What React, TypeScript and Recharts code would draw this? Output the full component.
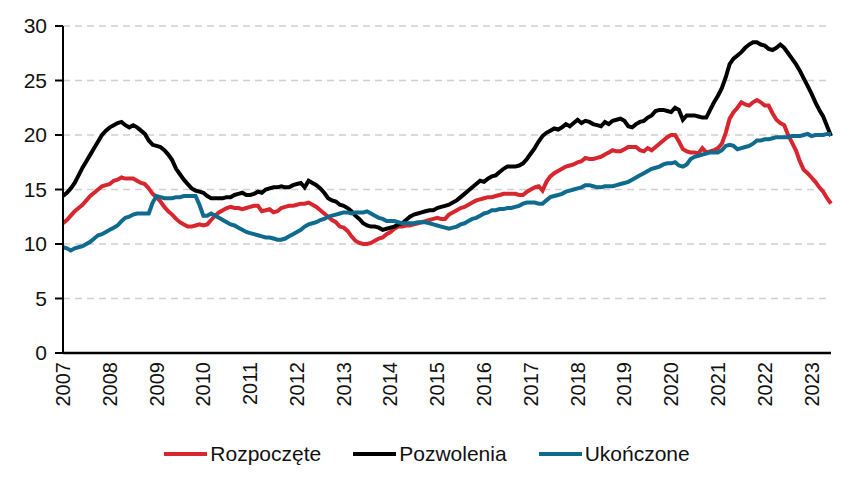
import { LineChart, Line, XAxis, YAxis, CartesianGrid } from "recharts";

// monthly, Jan 2007 – Jun 2023
const rozpoczete = [
  11.9, 12.2, 12.6, 13.0, 13.3, 13.6, 14.0, 14.4, 14.7, 15.0, 15.3, 15.4,
  15.5, 15.8, 15.9, 16.1, 16.0, 16.0, 16.0, 15.8, 15.6, 15.5, 15.1, 14.6,
  14.3, 13.9, 13.4, 13.0, 12.7, 12.3, 12.0, 11.8, 11.6, 11.6, 11.7, 11.8,
  11.7, 11.8, 12.2, 12.6, 12.9, 13.1, 13.3, 13.4, 13.3, 13.3, 13.2, 13.3,
  13.4, 13.5, 13.5, 13.0, 13.1, 13.2, 12.9, 13.0, 13.3, 13.4, 13.5, 13.5,
  13.6, 13.7, 13.7, 13.8, 13.6, 13.4, 13.1, 12.8, 12.5, 12.2, 12.0, 11.6,
  11.5, 11.2, 10.7, 10.3, 10.1, 10.0, 10.0, 10.1, 10.3, 10.5, 10.6, 10.9,
  11.1, 11.4, 11.6, 11.6, 11.7, 11.7, 11.8, 11.9, 12.0, 12.1, 12.2, 12.3,
  12.4, 12.3, 12.3, 12.7, 12.9, 13.1, 13.3, 13.4, 13.6, 13.8, 14.0, 14.1,
  14.2, 14.3, 14.3, 14.4, 14.5, 14.6, 14.6, 14.6, 14.6, 14.5, 14.5, 14.8,
  15.0, 15.2, 15.3, 14.9, 15.7, 16.2, 16.5, 16.7, 16.9, 17.1, 17.2, 17.3,
  17.5, 17.6, 17.9, 17.8, 17.8, 17.9, 18.0, 18.2, 18.4, 18.6, 18.5, 18.5,
  18.7, 18.9, 18.9, 18.9, 18.6, 18.5, 18.8, 18.6, 18.9, 19.2, 19.5, 19.8,
  20.0, 20.0, 19.4, 18.7, 18.5, 18.4, 18.4, 18.3, 18.8, 18.4, 18.5, 18.6,
  18.8, 19.2, 20.2, 21.5, 22.1, 22.5, 23.0, 22.8, 22.7, 23.0, 23.2, 23.0,
  22.7, 22.7, 22.0, 21.4, 21.1, 20.9, 20.0, 19.3, 18.6, 17.6, 16.8, 16.5,
  16.1, 15.7, 15.2, 14.8, 14.2, 13.7,
];

const pozwolenia = [
  14.4, 14.7, 15.1, 15.6, 16.3, 17.0, 17.6, 18.2, 18.8, 19.4, 20.0, 20.4,
  20.7, 20.9, 21.1, 21.2, 20.9, 20.7, 20.9, 20.7, 20.4, 20.1, 19.5, 19.1,
  19.0, 18.9, 18.6, 18.2, 17.7, 16.9, 16.4, 15.9, 15.5, 15.1, 14.9, 14.8,
  14.7, 14.4, 14.2, 14.2, 14.2, 14.2, 14.3, 14.3, 14.5, 14.6, 14.7, 14.5,
  14.5, 14.6, 14.8, 14.7, 15.0, 15.1, 15.2, 15.2, 15.3, 15.2, 15.2, 15.4,
  15.5, 15.6, 15.2, 15.8, 15.6, 15.4, 15.1, 14.7, 14.2, 14.0, 13.9, 13.6,
  13.5, 13.3, 13.0, 12.6, 12.3, 11.9, 11.7, 11.6, 11.6, 11.5, 11.3, 11.4,
  11.5, 11.6, 11.8, 11.9, 12.2, 12.5, 12.7, 12.8, 12.9, 13.0, 13.1, 13.1,
  13.3, 13.4, 13.5, 13.6, 13.8, 14.0, 14.3, 14.6, 14.9, 15.2, 15.5, 15.8,
  15.7, 16.0, 16.2, 16.3, 16.6, 16.9, 17.1, 17.1, 17.1, 17.2, 17.4, 17.8,
  18.3, 18.8, 19.4, 19.9, 20.2, 20.4, 20.6, 20.5, 20.7, 21.0, 20.8, 21.1,
  21.4, 21.1, 21.3, 21.2, 21.0, 20.9, 20.8, 21.2, 21.0, 21.3, 21.4, 21.5,
  21.3, 20.8, 20.7, 21.0, 21.2, 21.3, 21.6, 21.8, 22.2, 22.3, 22.3, 22.2,
  22.1, 22.5, 22.3, 21.4, 21.8, 21.8, 21.8, 21.7, 21.6, 21.6, 22.3, 23.0,
  23.6, 24.3, 25.3, 26.5, 27.0, 27.3, 27.6, 28.0, 28.3, 28.5, 28.5, 28.3,
  28.2, 27.9, 27.8, 28.0, 28.3, 28.0, 27.5, 27.0, 26.5, 25.9, 25.2, 24.5,
  23.8, 23.0, 22.3, 21.7, 20.8, 19.9,
];

const ukonczone = [
  9.7, 9.6, 9.4, 9.6, 9.7, 9.8, 10.0, 10.2, 10.5, 10.8, 10.9, 11.1,
  11.3, 11.5, 11.7, 12.1, 12.4, 12.5, 12.7, 12.8, 12.8, 12.8, 12.8, 13.8,
  14.4, 14.3, 14.2, 14.2, 14.2, 14.3, 14.3, 14.4, 14.4, 14.4, 14.4, 13.6,
  12.6, 12.6, 12.8, 12.6, 12.4, 12.2, 12.0, 11.8, 11.7, 11.5, 11.3, 11.1,
  11.0, 10.9, 10.8, 10.7, 10.6, 10.6, 10.5, 10.4, 10.4, 10.5, 10.7, 10.9,
  11.1, 11.3, 11.6, 11.8, 11.9, 12.0, 12.2, 12.3, 12.5, 12.6, 12.7, 12.8,
  12.9, 12.9, 12.8, 12.9, 12.9, 12.9, 13.0, 12.8, 12.6, 12.4, 12.3, 12.1,
  12.1, 12.1, 12.0, 11.9, 11.9, 11.9, 11.9, 12.0, 12.0, 12.0, 11.9, 11.8,
  11.7, 11.6, 11.5, 11.4, 11.5, 11.6, 11.8, 11.9, 12.1, 12.3, 12.4, 12.6,
  12.8, 12.9, 13.1, 13.1, 13.2, 13.2, 13.3, 13.3, 13.4, 13.5, 13.7, 13.8,
  13.8, 13.8, 13.7, 13.7, 14.0, 14.3, 14.4, 14.5, 14.6, 14.8, 14.9, 15.0,
  15.1, 15.2, 15.4, 15.4, 15.3, 15.2, 15.2, 15.3, 15.3, 15.3, 15.4, 15.5,
  15.6, 15.7, 15.9, 16.1, 16.3, 16.5, 16.7, 16.9, 17.0, 17.1, 17.3, 17.4,
  17.4, 17.5, 17.2, 17.1, 17.3, 17.8, 18.0, 18.1, 18.2, 18.3, 18.4, 18.4,
  18.4, 18.6, 19.0, 19.1, 19.0, 18.7, 18.8, 18.9, 19.0, 19.2, 19.5, 19.5,
  19.6, 19.6, 19.7, 19.8, 19.8, 19.8, 19.8, 19.9, 19.9, 19.9, 20.0, 20.1,
  19.9, 20.0, 20.0, 20.0, 20.1, 20.1,
];

const years = [
  "2007", "2008", "2009", "2010", "2011", "2012", "2013", "2014", "2015",
  "2016", "2017", "2018", "2019", "2020", "2021", "2022", "2023",
];
const yTicks = [0, 5, 10, 15, 20, 25, 30];

const series = [
  { key: "rozpoczete", name: "Rozpoczęte", color: "#d7262d" },
  { key: "pozwolenia", name: "Pozwolenia", color: "#000000" },
  { key: "ukonczone", name: "Ukończone", color: "#0f6b8e" },
];

const rows = rozpoczete.map((v, i) => ({
  m: i,
  rozpoczete: v,
  pozwolenia: pozwolenia[i],
  ukonczone: ukonczone[i],
}));
const yearTicks = years.map((_, i) => i * 12);

const FONT = '"Liberation Sans", Arial, sans-serif';

function YearTick(props: any) {
  const { x, y, payload } = props;
  const label = years[Math.round(payload.value / 12)];
  return (
    <text
      x={x}
      y={y}
      transform={`rotate(-90 ${x} ${y})`}
      textAnchor="end"
      dy="0.35em"
      fontSize={20}
      fill="#111"
      fontFamily={FONT}
    >
      {label}
    </text>
  );
}

export default function App() {
  return (
    <div
      style={{
        position: "absolute",
        left: 0,
        top: 0,
        width: 854,
        height: 489,
        background: "#fff",
        fontFamily: FONT,
      }}
    >
      <LineChart
        width={854}
        height={489}
        data={rows}
        margin={{ top: 26, right: 23, bottom: 76, left: 0 }}
      >
        <CartesianGrid
          vertical={false}
          stroke="#d0d0d0"
          strokeDasharray="7 5"
          strokeWidth={1.5}
        />
        <XAxis
          dataKey="m"
          type="number"
          domain={[0, 197]}
          ticks={yearTicks}
          interval={0}
          tick={<YearTick />}
          tickLine={false}
          tickSize={0}
          tickMargin={9}
          height={60}
          axisLine={{ stroke: "#000", strokeWidth: 2.5 }}
        />
        <YAxis
          domain={[0, 30]}
          ticks={yTicks}
          interval={0}
          width={63}
          tickSize={8}
          tickMargin={8}
          axisLine={{ stroke: "#000", strokeWidth: 2 }}
          tickLine={{ stroke: "#000", strokeWidth: 2 }}
          tick={{ fill: "#111", fontSize: 21, fontFamily: FONT }}
        />
        {series.map((s) => (
          <Line
            key={s.key}
            type="linear"
            dataKey={s.key}
            name={s.name}
            stroke={s.color}
            strokeWidth={4}
            dot={false}
            isAnimationActive={false}
          />
        ))}
      </LineChart>
      <div
        style={{
          position: "absolute",
          top: 442,
          left: 0,
          width: 854,
          display: "flex",
          justifyContent: "center",
          gap: 32,
          fontSize: 21,
          color: "#111",
        }}
      >
        {series.map((s) => (
          <div key={s.key} style={{ display: "flex", alignItems: "center" }}>
            <span
              style={{
                display: "inline-block",
                width: 43,
                height: 4,
                background: s.color,
                marginRight: 3,
              }}
            />
            <span>{s.name}</span>
          </div>
        ))}
      </div>
    </div>
  );
}
